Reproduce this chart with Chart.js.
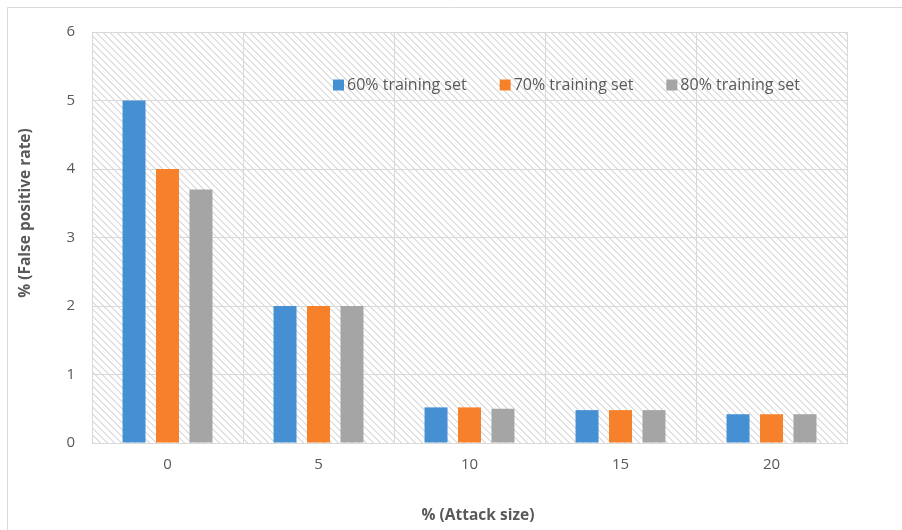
<!DOCTYPE html>
<html>
<head>
<meta charset="utf-8">
<title>False positive rate by attack size</title>
<script src="https://cdn.jsdelivr.net/npm/chart.js@4/dist/chart.umd.min.js"></script>
<style>
  html, body { margin: 0; padding: 0; background: #ffffff; }
  #wrap { width: 902px; height: 530px; position: relative; }
</style>
</head>
<body>
<div id="wrap"><canvas id="chart" width="902" height="530"></canvas></div>
<script>
// Attack size (%) categories and false positive rate (%) per training split
const categories = ['0', '5', '10', '15', '20'];
const set60 = [5, 2, 0.52, 0.48, 0.42];
const set70 = [4, 2, 0.52, 0.48, 0.42];
const set80 = [3.7, 2, 0.50, 0.48, 0.42];
const seriesLabels = ['60% training set', '70% training set', '80% training set'];
const seriesColors = ['#4590d3', '#f7812a', '#a5a5a5'];
const yTitle = '% (False positive rate)';
const xTitle = '% (Attack size)';

const FONT = '"Open Sans", Lato, sans-serif';
const TEXT = '#595959';
const GRID = '#d9d9d9';

// Diagonal hatch tile for the plot background
function makeHatch() {
  const s = 7;
  const c = document.createElement('canvas');
  c.width = s; c.height = s;
  const g = c.getContext('2d');
  g.fillStyle = '#ffffff';
  g.fillRect(0, 0, s, s);
  g.fillStyle = '#e1e1e1';
  for (let y = 0; y < s; y++) {
    for (let x = 0; x < s; x++) {
      if (((x - y) % s + s) % s < 2) g.fillRect(x, y, 1, 1);
    }
  }
  return c;
}

const backdrop = {
  id: 'backdrop',
  beforeDraw(chart) {
    const { ctx, chartArea: a } = chart;
    ctx.save();
    // outer frame
    ctx.strokeStyle = GRID;
    ctx.lineWidth = 1;
    ctx.beginPath();
    ctx.moveTo(7.5, 530);
    ctx.lineTo(7.5, 7.5);
    ctx.lineTo(902, 7.5);
    ctx.stroke();
    // hatched plot area
    ctx.fillStyle = ctx.createPattern(makeHatch(), 'repeat');
    ctx.fillRect(a.left, a.top, a.right - a.left, a.bottom - a.top);
    ctx.restore();
  },
  afterDraw(chart) {
    const { ctx, chartArea: a } = chart;
    ctx.save();
    // axis titles
    ctx.fillStyle = TEXT;
    ctx.font = 'bold 15.5px ' + FONT;
    ctx.textAlign = 'center';
    ctx.textBaseline = 'middle';
    ctx.fillText(xTitle, 478, 516);
    ctx.translate(26, 213);
    ctx.rotate(-Math.PI / 2);
    ctx.fillText(yTitle, 0, 0);
    ctx.restore();

    // legend inside the plot area
    ctx.save();
    ctx.font = '16px ' + FONT;
    ctx.textBaseline = 'middle';
    ctx.textAlign = 'left';
    let x = a.left + 241;
    const yc = a.top + 53;
    chart.data.datasets.forEach((ds) => {
      ctx.fillStyle = ds.backgroundColor;
      ctx.fillRect(x, yc - 5.5, 11, 11);
      ctx.fillStyle = TEXT;
      ctx.fillText(ds.label, x + 14, yc);
      x += 14 + ctx.measureText(ds.label).width + 33;
    });
    ctx.restore();
  }
};

new Chart(document.getElementById('chart'), {
  type: 'bar',
  data: {
    labels: categories,
    datasets: [
      { label: seriesLabels[0], data: set60, backgroundColor: seriesColors[0] },
      { label: seriesLabels[1], data: set70, backgroundColor: seriesColors[1] },
      { label: seriesLabels[2], data: set80, backgroundColor: seriesColors[2] }
    ]
  },
  options: {
    responsive: false,
    animation: false,
    devicePixelRatio: 1,
    layout: { padding: { left: 0, right: 55, top: 32, bottom: 0 } },
    datasets: { bar: { categoryPercentage: 0.665, barPercentage: 0.687 } },
    plugins: { legend: { display: false }, tooltip: { enabled: false } },
    scales: {
      x: {
        grid: { color: GRID, lineWidth: 1, drawTicks: false, offset: true },
        border: { color: GRID, width: 1 },
        ticks: { color: TEXT, font: { family: FONT, size: 15 }, padding: 13 },
        afterFit(s) { s.height = 87; }
      },
      y: {
        min: 0,
        max: 6,
        grid: { color: GRID, lineWidth: 1, drawTicks: false },
        border: { color: GRID, width: 1 },
        ticks: { stepSize: 1, color: TEXT, font: { family: FONT, size: 15 }, padding: 17 },
        afterFit(s) { s.width = 92; }
      },
      x2: {
        position: 'top',
        grid: { display: false },
        border: { color: GRID, width: 1 },
        ticks: { display: false },
        afterFit(s) { s.height = 0; }
      },
      y2: {
        position: 'right',
        grid: { display: false },
        border: { color: GRID, width: 1 },
        ticks: { display: false },
        afterFit(s) { s.width = 0; }
      }
    }
  },
  plugins: [backdrop]
});
</script>
</body>
</html>
